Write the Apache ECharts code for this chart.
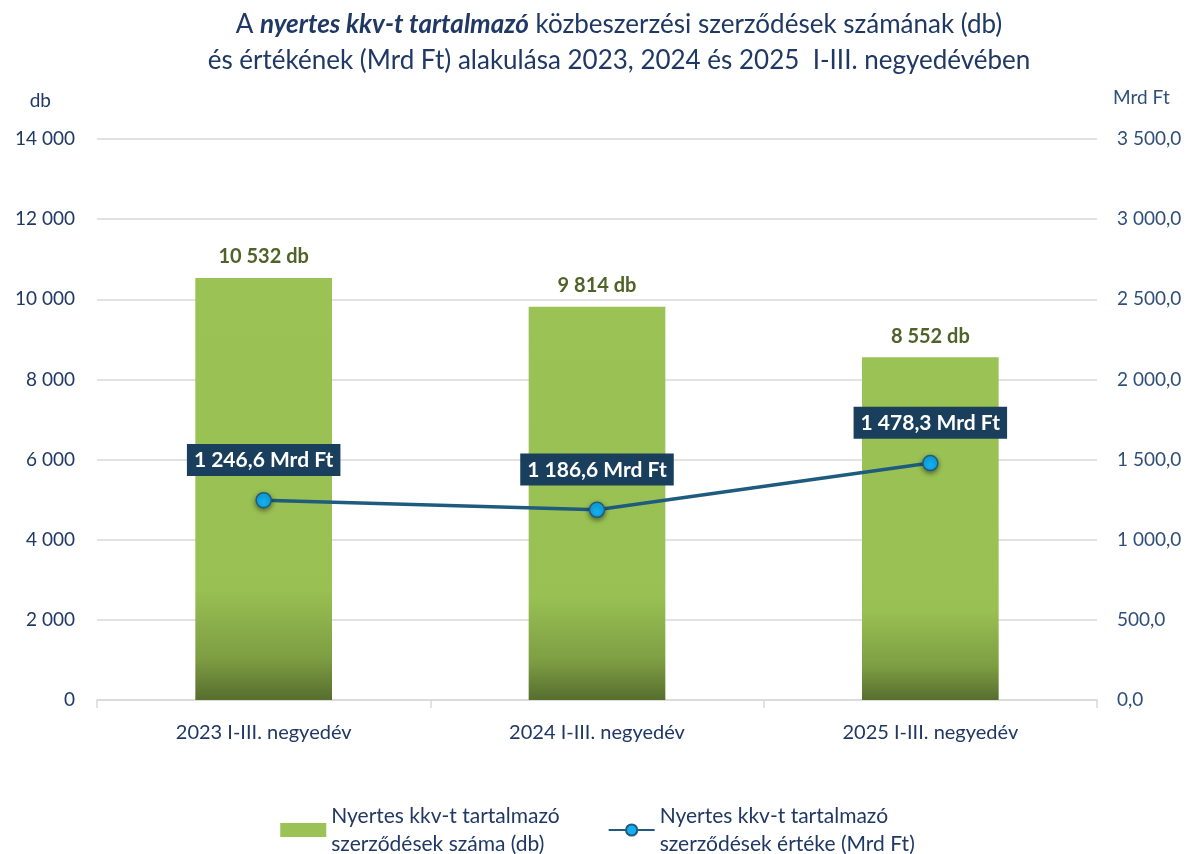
<!DOCTYPE html>
<html>
<head>
<meta charset="utf-8">
<script src="https://cdn.jsdelivr.net/npm/echarts@6/dist/echarts.min.js"></script>
<style>
  html, body { margin: 0; padding: 0; background: #fff; }
  #chart { width: 1195px; height: 854px; }
</style>
</head>
<body>
<div id="chart"></div>
<script>
const categories = ['2023 I-III. negyedév', '2024 I-III. negyedév', '2025 I-III. negyedév']
const countValues = [10532, 9814, 8552]
const amountValues = [1246.6, 1186.6, 1478.3]
const countName = 'Nyertes kkv-t tartalmazó\nszerződések száma (db)'
const amountName = 'Nyertes kkv-t tartalmazó\nszerződések értéke (Mrd Ft)'

const FONT = 'Lato, "Noto Sans", sans-serif'
const NAVY = '#1F3864'
const SLATE = '#2E4F7A'

// magyar számformátum: szóköz az ezreseknél, vessző a tizedesnél
const fmt = (v, dec) => {
  const parts = Number(v).toFixed(dec).split('.')
  const intPart = parts[0].replace(/\B(?=(\d{3})+(?!\d))/g, ' ')
  return parts[1] ? intPart + ',' + parts[1] : intPart
}

const chart = echarts.init(document.getElementById('chart'))

const option = {
  textStyle: { fontFamily: FONT },
  title: {
    left: 614,
    textAlign: 'center',
    top: 2,
    text: '{n|A }{b|nyertes kkv-t tartalmazó}{n| közbeszerzési szerződések számának (db)}\n{n|és értékének (Mrd Ft) alakulása 2023, 2024 és 2025  I-III. negyedévében}',
    textStyle: {
      fontWeight: 'normal',
      rich: {
        n: { fontFamily: FONT, fontSize: 26, fontWeight: 'normal', color: NAVY, lineHeight: 36 },
        b: { fontFamily: FONT, fontSize: 26, color: NAVY, fontWeight: 'bold', fontStyle: 'italic', lineHeight: 36 },
      },
    },
  },
  grid: {
    left: 97,
    right: 98,
    top: 139,
    bottom: 154,
  },
  legend: {
    bottom: -9,
    left: 'center',
    itemGap: 48,
    itemWidth: 46,
    itemHeight: 14,
    textStyle: { fontSize: 21, color: NAVY, lineHeight: 28 },
    data: [
      { name: countName, icon: 'rect', itemStyle: { color: '#9BC255' } },
      { name: amountName },
    ],
  },
  xAxis: {
    type: 'category',
    data: categories,
    axisLine: { lineStyle: { color: '#D9D9D9', width: 1.5 } },
    axisTick: { show: true, length: 8, lineStyle: { color: '#D9D9D9', width: 1.5 } },
    axisLabel: { fontSize: 20, color: NAVY, margin: 23 },
  },
  yAxis: [
    {
      type: 'value',
      min: 0,
      max: 14000,
      interval: 2000,
      name: 'db',
      nameLocation: 'end',
      nameGap: 29,
      nameTextStyle: { fontSize: 19, color: NAVY, align: 'right', padding: [0, 46, 0, 0] },
      axisLine: { show: false },
      axisTick: { show: false },
      axisLabel: { fontSize: 19, color: NAVY, margin: 22, formatter: (v) => fmt(v, 0) },
      splitLine: { lineStyle: { color: '#D9D9D9', width: 1.5 } },
    },
    {
      type: 'value',
      min: 0,
      max: 3500,
      interval: 500,
      name: 'Mrd Ft',
      nameLocation: 'end',
      nameGap: 32,
      nameTextStyle: { fontSize: 19, color: SLATE, align: 'left', padding: [0, 0, 0, 16] },
      axisLine: { show: false },
      axisTick: { show: false },
      axisLabel: { fontSize: 19, color: SLATE, margin: 20, formatter: (v) => fmt(v, 1) },
      splitLine: { show: false },
    },
  ],
  series: [
    {
      name: countName,
      type: 'bar',
      yAxisIndex: 0,
      data: countValues,
      barWidth: '41%',
      itemStyle: {
        color: {
          type: 'linear',
          x: 0,
          y: 0,
          x2: 0,
          y2: 1,
          colorStops: [
            { offset: 0, color: '#9BC255' },
            { offset: 0.74, color: '#98C052' },
            { offset: 0.9, color: '#7E9E43' },
            { offset: 1, color: '#566E2E' },
          ],
        },
      },
      label: {
        show: true,
        position: 'top',
        distance: 11,
        fontSize: 20,
        fontWeight: 'bold',
        color: '#4F6228',
        formatter: (p) => fmt(p.value, 0) + ' db',
      },
    },
    {
      name: amountName,
      type: 'line',
      yAxisIndex: 1,
      data: amountValues,
      symbol: 'circle',
      symbolSize: 15,
      lineStyle: { color: '#1F5B7E', width: 3.5 },
      itemStyle: {
        color: '#12B0F0',
        borderColor: '#1F5B7E',
        borderWidth: 1.5,
        shadowBlur: 5,
        shadowOffsetY: 2,
        shadowColor: 'rgba(0,0,0,0.45)',
      },
      label: {
        show: true,
        position: 'top',
        distance: 16,
        fontSize: 21,
        fontWeight: 'bold',
        color: '#fff',
        backgroundColor: '#1A3F5C',
        padding: [6, 7, 5, 7],
        formatter: (p) => fmt(p.value, 1) + ' Mrd Ft',
      },
      z: 5,
    },
  ],
  animation: false,
}

chart.setOption(option)
</script>
</body>
</html>
